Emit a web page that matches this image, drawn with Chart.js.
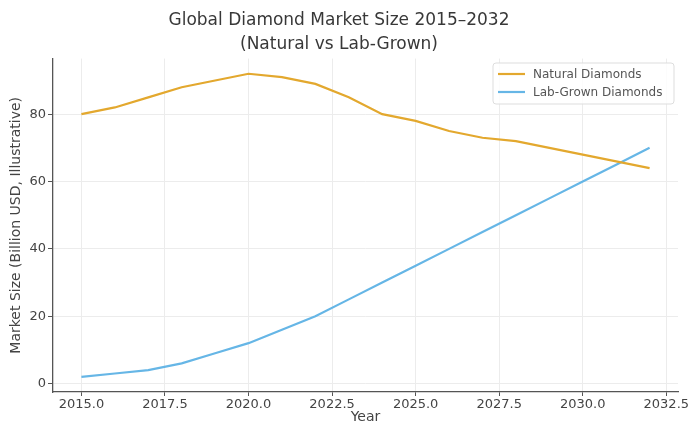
<!DOCTYPE html>
<html>
<head>
<meta charset="utf-8">
<script src="https://cdn.jsdelivr.net/npm/chart.js@4/dist/chart.umd.min.js"></script>
<style>
  html, body { margin: 0; padding: 0; background: #fff; }
  #wrap { width: 694px; height: 426px; position: relative; }
</style>
</head>
<body>
<div id="wrap"><canvas id="c" width="694" height="426"></canvas></div>
<script>
const years = [2015, 2016, 2017, 2018, 2019, 2020, 2021, 2022, 2023, 2024, 2025, 2026, 2027, 2028, 2029, 2030, 2031, 2032];
const naturalDiamonds = [80, 82, 85, 88, 90, 92, 91, 89, 85, 80, 78, 75, 73, 72, 70, 68, 66, 64];
const labGrownDiamonds = [2, 3, 4, 6, 9, 12, 16, 20, 25, 30, 35, 40, 45, 50, 55, 60, 65, 70];
const xTickLabels = [2015.0, 2017.5, 2020.0, 2022.5, 2025.0, 2027.5, 2030.0, 2032.5];
const yTickLabels = [0, 20, 40, 60, 80];
const seriesNames = ['Natural Diamonds', 'Lab-Grown Diamonds'];
const titleLines = ['Global Diamond Market Size 2015\u20132032', '(Natural vs Lab-Grown)'];

const FONT = "'DejaVu Sans', 'Liberation Sans', sans-serif";

const insideLegend = {
  id: 'insideLegend',
  afterDraw(chart) {
    const ctx = chart.ctx;
    const x0 = 493, y0 = 63, w = 181, h = 41;
    ctx.save();
    ctx.beginPath();
    ctx.roundRect(x0, y0, w, h, 3);
    ctx.fillStyle = 'rgba(255,255,255,0.85)';
    ctx.fill();
    ctx.strokeStyle = '#dddddd';
    ctx.lineWidth = 1;
    ctx.stroke();
    chart.data.datasets.forEach((ds, i) => {
      const y = 74 + i * 18;
      ctx.beginPath();
      ctx.moveTo(498, y);
      ctx.lineTo(525, y);
      ctx.strokeStyle = ds.borderColor;
      ctx.lineWidth = 2.2;
      ctx.stroke();
      ctx.fillStyle = '#555';
      ctx.font = "12px " + FONT;
      ctx.textBaseline = 'middle';
      ctx.textAlign = 'left';
      ctx.fillText(ds.label, 533, y + 0.5);
    });
    ctx.restore();
  }
};

new Chart(document.getElementById('c'), {
  type: 'line',
  data: {
    datasets: [
      {
        label: seriesNames[0],
        data: years.map((y, i) => ({ x: y, y: naturalDiamonds[i] })),
        borderColor: '#E3A82E',
        borderWidth: 2.2,
        pointRadius: 0,
        tension: 0,
        fill: false
      },
      {
        label: seriesNames[1],
        data: years.map((y, i) => ({ x: y, y: labGrownDiamonds[i] })),
        borderColor: '#66B6E6',
        borderWidth: 2.2,
        pointRadius: 0,
        tension: 0,
        fill: false
      }
    ]
  },
  options: {
    responsive: false,
    animation: false,
    devicePixelRatio: 1,
    layout: { padding: { left: 0, right: 16, top: 0, bottom: 0 } },
    plugins: {
      legend: { display: false },
      tooltip: { enabled: false },
      title: {
        display: true,
        text: titleLines,
        color: '#383838',
        font: { family: FONT, size: 17, weight: 'normal', lineHeight: 1.4 },
        padding: { top: 9, bottom: 2 }
      }
    },
    scales: {
      x: {
        type: 'linear',
        min: 2014.15,
        max: 2032.85,
        afterBuildTicks(scale) { scale.ticks = xTickLabels.map(v => ({ value: v })); },
        afterFit(scale) { scale.height = 34; scale.paddingLeft = 0; scale.paddingRight = 0; },
        ticks: {
          color: '#444',
          font: { family: FONT, size: 13 },
          padding: 1,
          maxRotation: 0,
          autoSkip: false,
          callback: v => Number(v).toFixed(1)
        },
        grid: { color: '#ececec', lineWidth: 1, tickLength: 4, tickColor: '#555' },
        border: { display: true, color: '#555', width: 1.3 },
        title: {
          display: true,
          text: 'Year',
          color: '#444',
          font: { family: FONT, size: 14 },
          padding: { top: 0, bottom: 0 }
        }
      },
      y: {
        type: 'linear',
        min: -2.5,
        max: 96.5,
        afterBuildTicks(scale) { scale.ticks = yTickLabels.map(v => ({ value: v })); },
        afterFit(scale) { scale.width = 53; scale.paddingTop = 0; scale.paddingBottom = 0; },
        ticks: {
          color: '#444',
          font: { family: FONT, size: 13 },
          padding: 2,
          autoSkip: false
        },
        grid: { color: '#ececec', lineWidth: 1, tickLength: 5, tickColor: '#555' },
        border: { display: true, color: '#555', width: 1.3 },
        title: {
          display: true,
          text: 'Market Size (Billion USD, Illustrative)',
          color: '#444',
          font: { family: FONT, size: 14 },
          padding: { top: 8, bottom: 0 }
        }
      }
    }
  },
  plugins: [insideLegend]
});
</script>
</body>
</html>
